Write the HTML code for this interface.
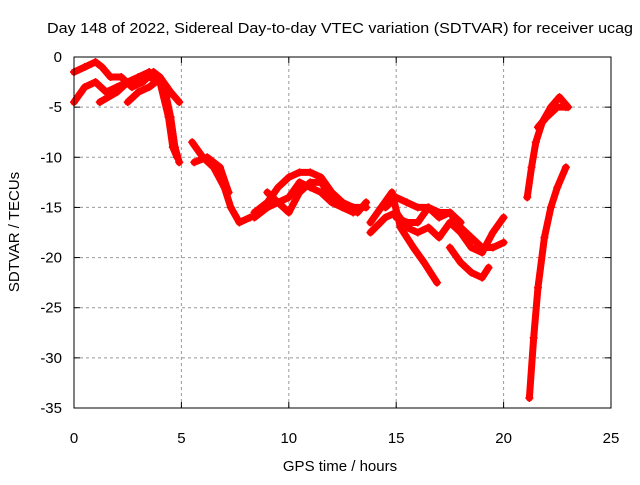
<!DOCTYPE html>
<html><head><meta charset="utf-8"><style>
body{margin:0;background:#fff}
svg text{font-family:"Liberation Sans",sans-serif;font-size:14px;fill:#000}
</style></head><body>
<svg width="640" height="480">
<text x="47" y="33" textLength="586" lengthAdjust="spacingAndGlyphs" style="font-size:15px">Day 148 of 2022, Sidereal Day-to-day VTEC variation (SDTVAR) for receiver ucag</text>
<g id="grid"></g><g id="series"></g>
<rect x="74" y="57" width="537" height="351" fill="none" stroke="#000"/>
<g id="ticks"></g>
<text x="340" y="471" text-anchor="middle" style="font-size:15px">GPS time / hours</text>
<text transform="translate(19,232) rotate(-90)" text-anchor="middle" style="font-size:15px">SDTVAR / TECUs</text>
</svg>
<script>
const xTicks=[0,5,10,15,20,25];
const yTicks=[0,-5,-10,-15,-20,-25,-30,-35];
const t1=[[0,-4.5],[0.5,-3],[1,-2.5],[1.5,-3.5],[2,-3],[2.5,-2.5],[3,-2.5],[3.5,-2],[4,-2.5],[4.3,-4],[4.5,-6],[4.7,-9],[4.9,-10.5]];
const t2=[[0,-1.5],[0.5,-1],[1,-0.5],[1.3,-1],[1.7,-2],[2.2,-2],[2.7,-3],[3.2,-2.5],[3.7,-1.5],[4,-2],[4.5,-3.5],[4.9,-4.5]];
const t3=[[1.2,-4.5],[2,-3.5],[2.5,-2.5],[3,-2],[3.5,-1.5],[4,-2.5],[4.4,-6],[4.6,-9],[4.8,-10]];
const t4=[[2.5,-4.5],[3,-3.5],[3.5,-3],[3.8,-2.5]];
const t5=[[5.5,-8.5],[6,-10],[6.5,-11],[7,-13],[7.3,-15],[7.7,-16.5],[8.2,-16]];
const t5b=[[5.6,-10.5],[6.2,-10],[6.8,-11],[7.2,-13.5]];
const t6=[[8.4,-15.5],[9,-14.5],[9.5,-13],[10,-12],[10.5,-11.5],[11,-11.5],[11.5,-12],[12,-13.5],[12.5,-14.5],[13,-15],[13.6,-15]];
const t7=[[8.4,-16],[9,-15],[9.5,-14.5],[10,-15.5],[10.5,-13.5],[11,-12.5],[11.5,-12.5],[12,-14],[12.5,-15],[13.2,-15.5],[13.6,-14.5]];
const t8=[[9,-13.5],[9.5,-14.5],[10,-14],[10.5,-12.5],[11,-13],[11.5,-13.5],[12,-14.5],[13,-15.5]];
const t9=[[13.8,-16.5],[14.3,-15],[14.8,-13.5],[15.2,-17],[15.8,-19],[16.3,-20.5],[16.9,-22.5]];
const t10=[[13.8,-17.5],[14.5,-16],[15,-15.5],[15.5,-17],[16,-17.5],[16.5,-17],[17,-18],[17.5,-16.5],[18,-17.5],[18.5,-19],[19,-19.5],[19.5,-17.5],[20,-16]];
const t11=[[14.5,-15],[15,-14],[15.5,-14.5],[16,-15],[16.5,-15],[17,-16],[17.5,-15.5],[18,-17],[18.5,-18],[19,-19],[19.5,-19],[20,-18.5]];
const t12=[[15,-16],[15.5,-16.5],[16,-16.5],[16.5,-15],[17,-15.5],[17.5,-15.5],[18,-16.5]];
const t13=[[17.5,-19],[18,-20.5],[18.5,-21.5],[19,-22],[19.3,-21]];
const t14=[[21.1,-14],[21.3,-11],[21.5,-8.5],[21.8,-6.5],[22.2,-5],[22.6,-4],[23,-5]];
const t14b=[[21.6,-7],[22,-6],[22.5,-5],[22.9,-5]];
const t15=[[21.2,-34],[21.4,-28],[21.6,-23],[21.9,-18],[22.2,-15],[22.5,-13],[22.9,-11]];
const tracks=[t1,t2,t3,t4,t5,t5b,t6,t7,t8,t9,t10,t11,t12,t13,t14,t14b,t15];
const NS='http://www.w3.org/2000/svg';
const X=h=>74+h*537/25, Y=v=>57-v*351/35;
const grid=document.getElementById('grid'),ticks=document.getElementById('ticks'),ser=document.getElementById('series');
function mk(tag,at,p){const e=document.createElementNS(NS,tag);for(const k in at)e.setAttribute(k,at[k]);p.appendChild(e);return e;}
xTicks.forEach(t=>{const x=X(t);
 if(t>0&&t<25){const g=mk('line',{x1:x,x2:x,y1:57,y2:408,stroke:'#999','stroke-dasharray':'3,3'},grid);
 
 }
 mk('line',{x1:x,x2:x,y1:408,y2:402,stroke:'#000'},ticks);mk('line',{x1:x,x2:x,y1:57,y2:63,stroke:'#000'},ticks);
 const l=mk('text',{x:x,y:443,'text-anchor':'middle',style:'font-size:15px'},ticks);l.textContent=t;
 
 });
yTicks.forEach(t=>{const y=Y(t);
 if(t<0&&t>-35){const g=mk('line',{x1:74,x2:611,y1:y,y2:y,stroke:'#999','stroke-dasharray':'3,3'},grid);
 
 }
 mk('line',{x1:74,x2:80,y1:y,y2:y,stroke:'#000'},ticks);mk('line',{x1:611,x2:605,y1:y,y2:y,stroke:'#000'},ticks);
 const l=mk('text',{x:62,y:y+5,'text-anchor':'end',style:'font-size:15px'},ticks);l.textContent=t;
 
 });
tracks.forEach(tr=>{
 const p=mk('polyline',{points:tr.map(d=>X(d[0])+','+Y(d[1])).join(' '),fill:'none',stroke:'#f00','stroke-width':7,'stroke-linejoin':'round','stroke-linecap':'round'},ser);
 
 
 tr.forEach(d=>{const x=X(d[0]),y=Y(d[1]);
  const m=mk('path',{d:`M${x-4},${y}H${x+4}M${x},${y-4}V${y+4}`,stroke:'#f00','stroke-width':1.5},ser);
  
  });
});
</script>
</body></html>
